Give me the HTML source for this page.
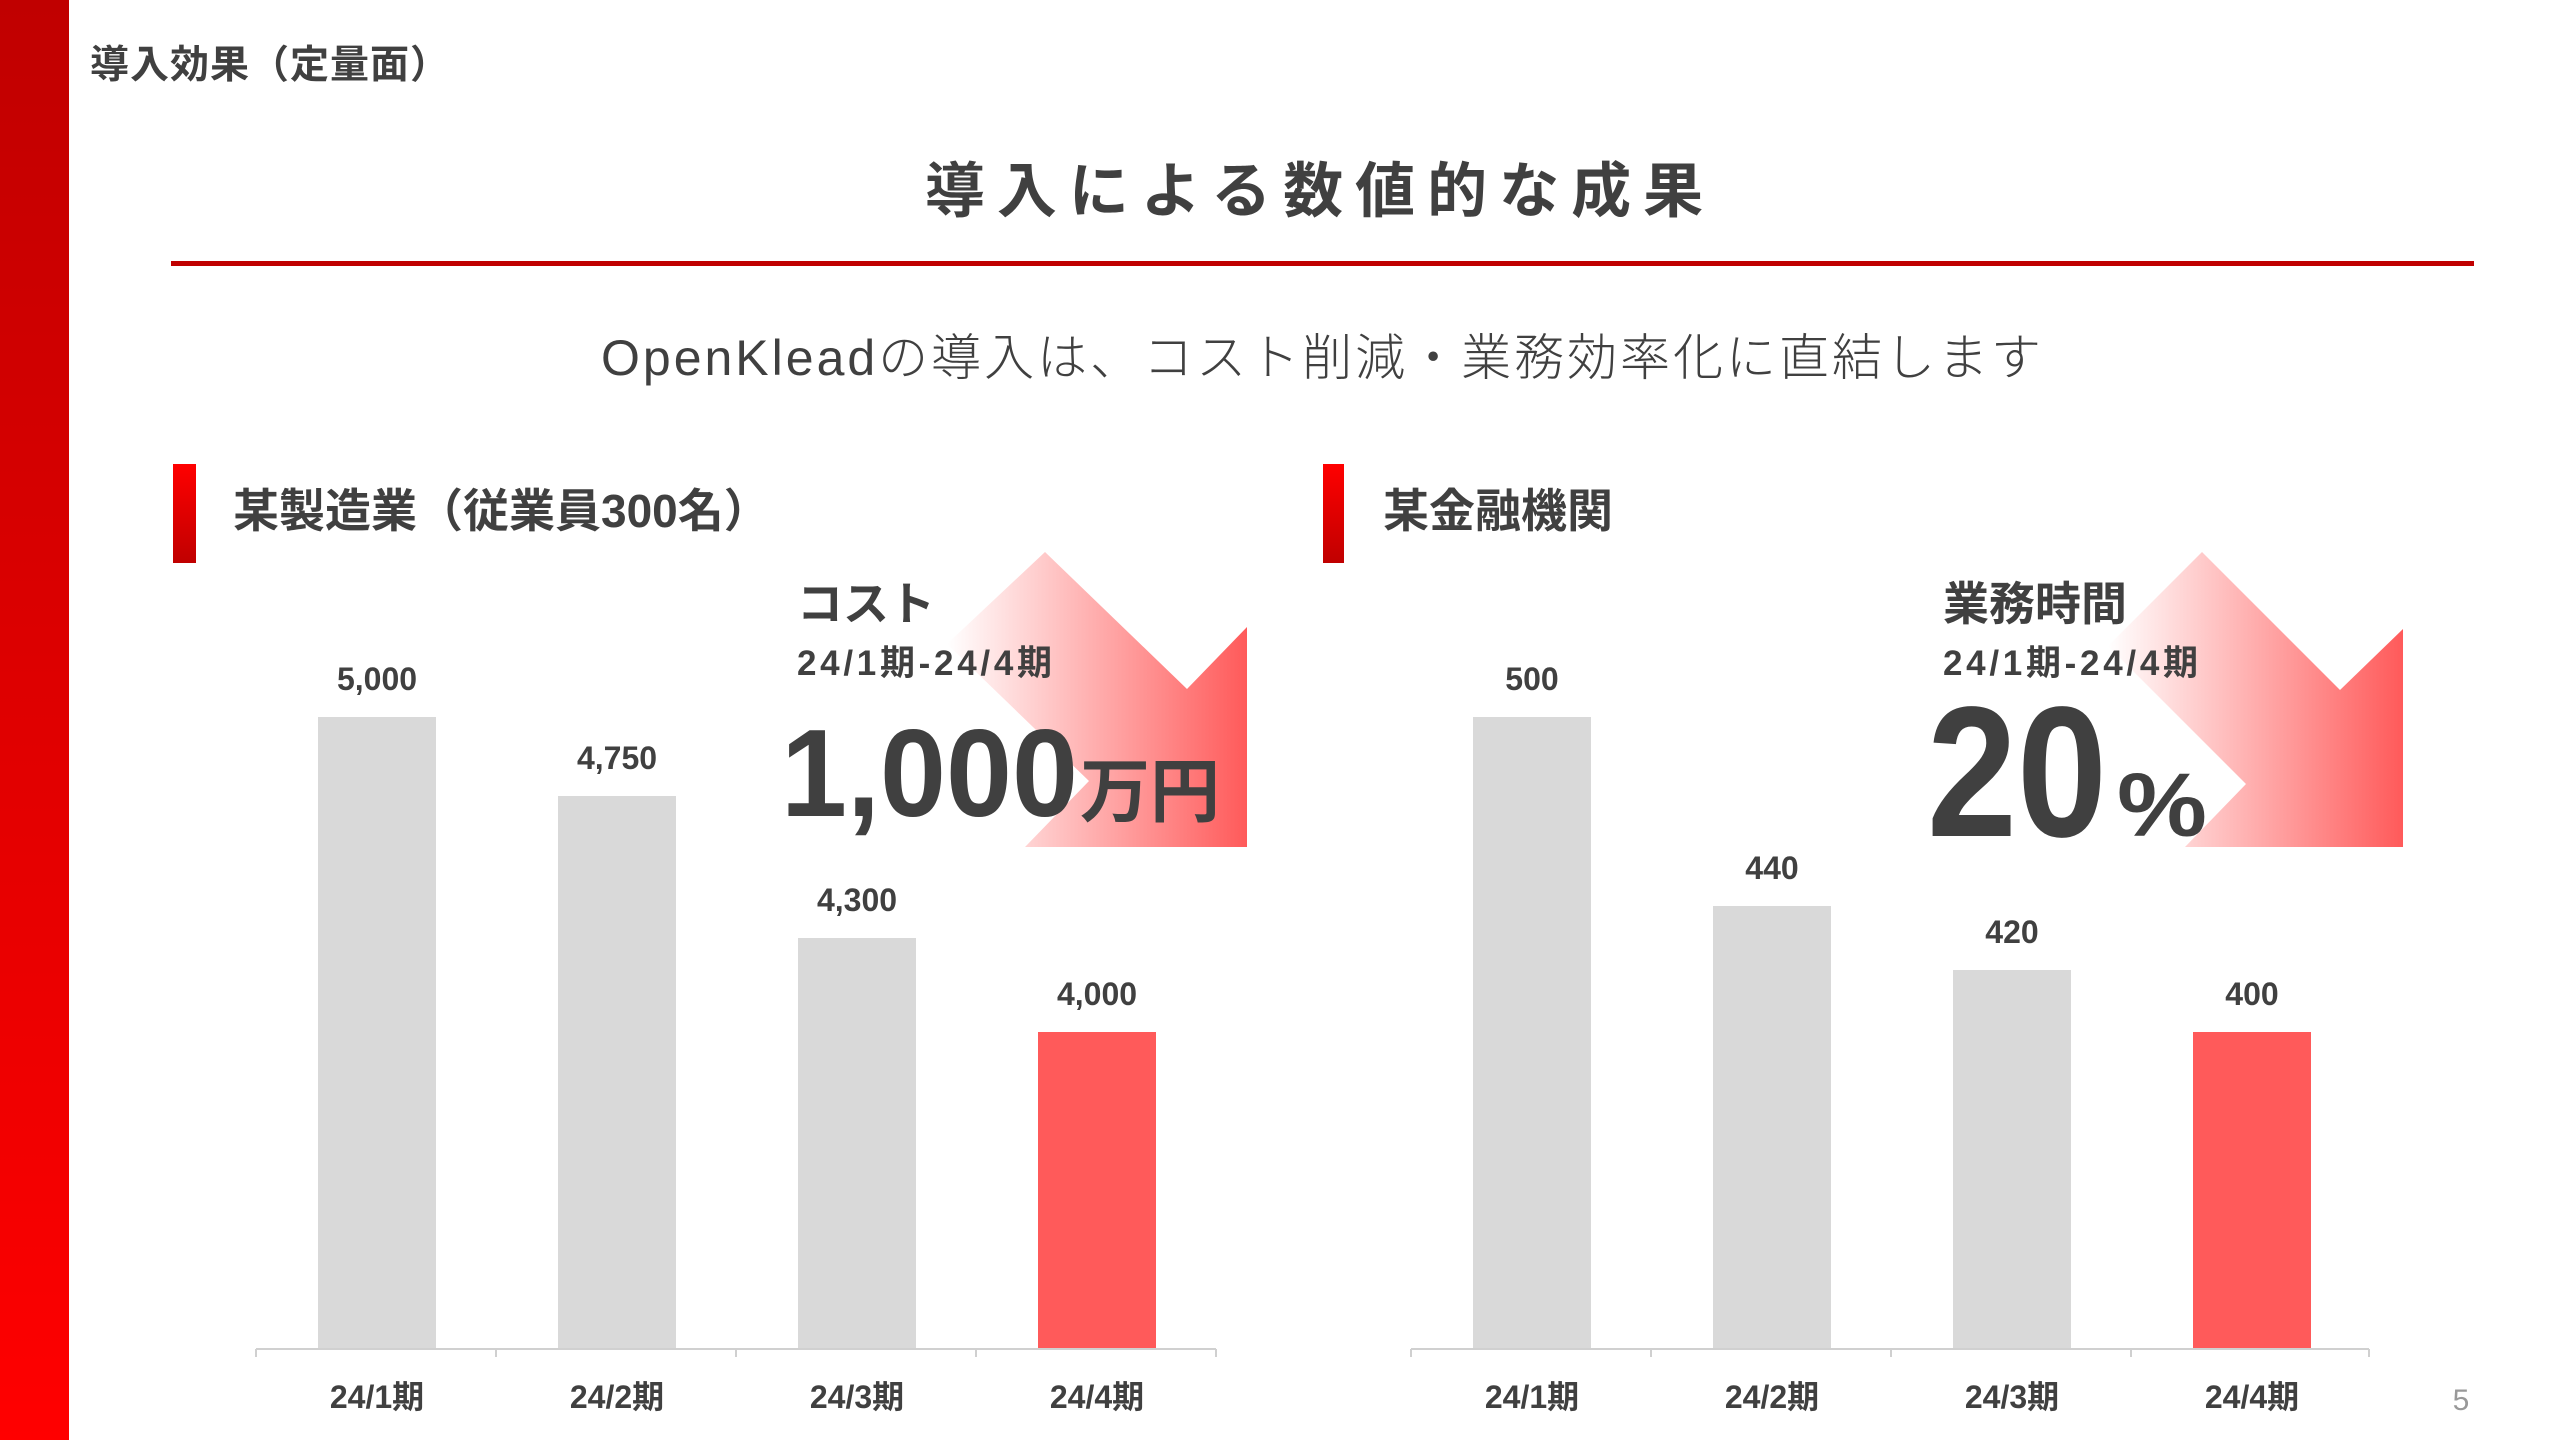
<!DOCTYPE html>
<html><head><meta charset="utf-8"><style>
html,body{margin:0;padding:0;background:#fff;}
svg{display:block}
text{font-family:"Liberation Sans","Noto Sans CJK JP",sans-serif;fill:#404040;}
</style></head><body>
<svg width="2560" height="1440" viewBox="0 0 2560 1440" xmlns="http://www.w3.org/2000/svg">
<defs>
<linearGradient id="side" x1="0" y1="0" x2="0" y2="1"><stop offset="0" stop-color="#c00000"/><stop offset="1" stop-color="#ff0000"/></linearGradient>
<linearGradient id="mk" x1="0" y1="0" x2="0" y2="1"><stop offset="0" stop-color="#ff0000"/><stop offset="1" stop-color="#c00000"/></linearGradient>
<linearGradient id="ar1" gradientUnits="userSpaceOnUse" x1="947" y1="0" x2="1247" y2="0"><stop offset="0" stop-color="#ff5a5a" stop-opacity="0"/><stop offset="1" stop-color="#ff5a5a"/></linearGradient>
<linearGradient id="ar2" gradientUnits="userSpaceOnUse" x1="2108" y1="0" x2="2403" y2="0"><stop offset="0" stop-color="#ff5a5a" stop-opacity="0"/><stop offset="1" stop-color="#ff5a5a"/></linearGradient>
</defs>
<rect x="0" y="0" width="69" height="1440" fill="url(#side)"/>
<text x="90" y="78" font-size="39" font-weight="bold" textLength="359" lengthAdjust="spacing">導入効果（定量面）</text>
<text x="1320" y="212" font-size="60" font-weight="bold" text-anchor="middle" letter-spacing="12">導入による数値的な成果</text>
<rect x="171" y="261" width="2303" height="5" fill="#c00000"/>
<text x="601" y="375" font-size="50" font-weight="300" textLength="1440" lengthAdjust="spacing">OpenKleadの導入は、コスト削減・業務効率化に直結します</text>

<rect x="173" y="464" width="23" height="99" fill="url(#mk)"/>
<text x="233" y="527" font-size="46" font-weight="bold">某製造業（従業員300名）</text>
<rect x="1323" y="464" width="21" height="99" fill="url(#mk)"/>
<text x="1383" y="527" font-size="46" font-weight="bold">某金融機関</text>

<polygon points="1045,552 1187,689 1247,627 1247,847 1025,847 1089,781 947,644" fill="url(#ar1)"/>
<polygon points="2202,552 2340,690 2403,629 2403,847 2185,847 2246,784 2108,646" fill="url(#ar2)"/>

<g fill="#d9d9d9">
<rect x="318" y="717" width="118" height="632"/>
<rect x="558" y="796" width="118" height="553"/>
<rect x="798" y="938" width="118" height="411"/>
</g>
<rect x="1038" y="1032" width="118" height="317" fill="#ff5a5a"/>
<path d="M256 1349H1216M256 1349v8M496 1349v8M736 1349v8M976 1349v8M1216 1349v8" stroke="#d0d0d0" stroke-width="2" fill="none"/>
<g font-size="32" font-weight="bold" text-anchor="middle">
<text x="377" y="690">5,000</text>
<text x="617" y="769">4,750</text>
<text x="857" y="911">4,300</text>
<text x="1097" y="1005">4,000</text>
<text x="377" y="1408">24/1期</text>
<text x="617" y="1408">24/2期</text>
<text x="857" y="1408">24/3期</text>
<text x="1097" y="1408">24/4期</text>
</g>

<g fill="#d9d9d9">
<rect x="1473" y="717" width="118" height="632"/>
<rect x="1713" y="906" width="118" height="443"/>
<rect x="1953" y="970" width="118" height="379"/>
</g>
<rect x="2193" y="1032" width="118" height="317" fill="#ff5a5a"/>
<path d="M1411 1349H2369M1411 1349v8M1651 1349v8M1891 1349v8M2131 1349v8M2369 1349v8" stroke="#d0d0d0" stroke-width="2" fill="none"/>
<g font-size="32" font-weight="bold" text-anchor="middle">
<text x="1532" y="690">500</text>
<text x="1772" y="879">440</text>
<text x="2012" y="943">420</text>
<text x="2252" y="1005">400</text>
<text x="1532" y="1408">24/1期</text>
<text x="1772" y="1408">24/2期</text>
<text x="2012" y="1408">24/3期</text>
<text x="2252" y="1408">24/4期</text>
</g>

<text x="797" y="620" font-size="46" font-weight="bold">コスト</text>
<text x="797" y="675" font-size="35" font-weight="bold" textLength="255" lengthAdjust="spacing">24/1期-24/4期</text>
<text x="781" y="816" font-size="124" font-weight="bold" textLength="297" lengthAdjust="spacingAndGlyphs">1,000</text>
<text x="1080" y="816" font-size="70" font-weight="bold">万円</text>

<text x="1943" y="620" font-size="46" font-weight="bold">業務時間</text>
<text x="1943" y="675" font-size="35" font-weight="bold" textLength="255" lengthAdjust="spacing">24/1期-24/4期</text>
<text x="1927" y="836" font-size="186" font-weight="bold" textLength="180" lengthAdjust="spacingAndGlyphs">20</text>
<text x="2117" y="836" font-size="90" font-weight="bold" textLength="90" lengthAdjust="spacingAndGlyphs">%</text>

<text x="2461" y="1410" font-size="30" text-anchor="middle" style="fill:#999">5</text>
</svg>
</body></html>
